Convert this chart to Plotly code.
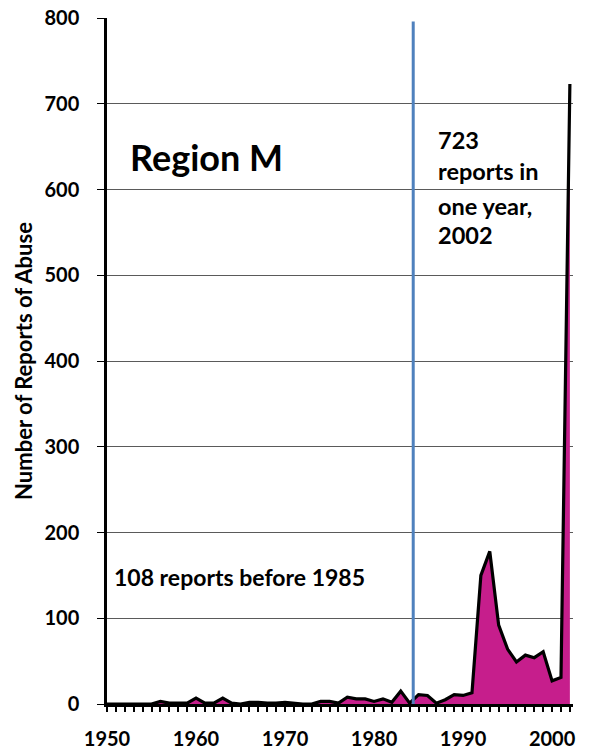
import plotly.graph_objects as go

years = list(range(1950, 2003))
reports = [0, 0, 0, 0, 0, 0, 3, 1, 1, 1,
           7, 1, 1, 7, 1, 0, 2, 2, 1, 1,
           2, 1, 0, 0, 3, 3, 1, 8, 6, 6,
           3, 6, 2, 15, 1, 11, 10, 1, 5, 11,
           10, 13, 150, 178, 92, 64, 49, 57, 54, 61,
           27, 31, 723]

x_ticks = [1950, 1960, 1970, 1980, 1990, 2000]
y_ticks = [0, 100, 200, 300, 400, 500, 600, 700, 800]
divider_year = 1984.4

title_text = "Region M"
left_note = "108 reports before 1985"
right_note_lines = ["723", "reports in", "one year,", "2002"]
y_title = "Number of Reports of Abuse"

FONT = "Lato"

fig = go.Figure()
fig.add_trace(go.Scatter(
    x=years, y=reports, mode="lines", fill="tozeroy",
    fillcolor="#C61E8C", line=dict(color="black", width=3.2),
    hoverinfo="skip", showlegend=False))

fig.add_shape(type="line", x0=divider_year, x1=divider_year, y0=0, y1=796,
              xref="x", yref="y", line=dict(color="#4F81BD", width=3))

fig.add_annotation(x=1952.4, y=638, xref="x", yref="y", text=title_text,
                   showarrow=False, xanchor="left", yanchor="middle",
                   font=dict(family=FONT, size=36, color="black", weight="bold"))
fig.add_annotation(x=1950.6, y=148, xref="x", yref="y", text=left_note,
                   showarrow=False, xanchor="left", yanchor="middle",
                   font=dict(family=FONT, size=23, color="black", weight="bold"))
for line, yv in zip(right_note_lines, [658, 621, 581, 547]):
    fig.add_annotation(x=1986.97, y=yv, xref="x", yref="y", text=line,
                       showarrow=False, xanchor="left", yanchor="middle",
                       font=dict(family=FONT, size=23.5, color="black", weight="bold"))

fig.update_layout(
    width=592, height=750,
    margin=dict(l=107, r=19, t=18, b=46, autoexpand=False),
    plot_bgcolor="white", paper_bgcolor="white",
    font=dict(family=FONT, color="black"),
)
fig.update_xaxes(
    range=[1950, 2002.35], tickvals=x_ticks, ticktext=[str(v) for v in x_ticks],
    ticks="outside", ticklen=5, tickwidth=1.5, tickcolor="black",
    minor=dict(dtick=1, tick0=1950, ticks="outside", ticklen=5, tickwidth=1.5,
               tickcolor="black", showgrid=False),
    showgrid=False, zeroline=False, showline=True, linecolor="black", linewidth=3,
    tickfont=dict(family=FONT, size=20, color="black", weight="bold"),
    ticklabelstandoff=10, ticklabeloverflow="allow", automargin=False,
)
fig.update_yaxes(
    range=[0, 800], tickvals=y_ticks, ticks="outside", ticklen=7, tickwidth=1.2,
    tickcolor="black",
    showgrid=True, gridcolor="#5a5a5a", gridwidth=1,
    zeroline=False, showline=True, linecolor="black", linewidth=2.5,
    tickfont=dict(family=FONT, size=20, color="black", weight="bold"),
    ticklabelstandoff=14, ticklabeloverflow="allow", automargin=False,
    title=dict(text=y_title, font=dict(family=FONT, size=22, color="black", weight="bold"),
               standoff=6),
)

# remove the browser's default 8px body margin so the figure fills the window exactly
fig.write_html("out.html", config={"displayModeBar": False},
               post_script="document.body.style.margin='0';")
